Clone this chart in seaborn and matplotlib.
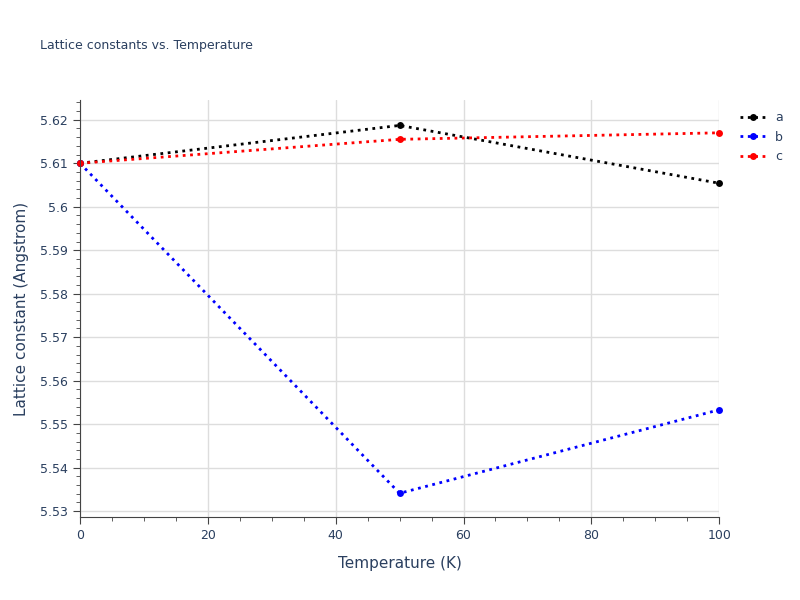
import matplotlib
matplotlib.use("Agg")
import matplotlib.pyplot as plt
import seaborn as sns
import pandas as pd
from matplotlib.ticker import MultipleLocator

sns.set_style("white")

temperature = [0, 50, 100]
lat_a = [5.6100, 5.6187, 5.6054]
lat_b = [5.6100, 5.5341, 5.5533]
lat_c = [5.6100, 5.6155, 5.6170]

df = pd.DataFrame({"T": temperature * 3,
                   "val": lat_a + lat_b + lat_c,
                   "series": ["a"] * 3 + ["b"] * 3 + ["c"] * 3})

fig = plt.figure(figsize=(8, 6), dpi=100)
ax = fig.add_axes([0.1, 0.138, 0.799, 0.695])
palette = {"a": "black", "b": "blue", "c": "red"}
for name, col in palette.items():
    sub = df[df.series == name]
    sns.lineplot(data=sub, x="T", y="val", ax=ax, color=col, linestyle=":",
                 linewidth=2, marker="o", markersize=5, markeredgewidth=0, label=name,
                 clip_on=False)

ax.set_xlim(0, 100)
ax.set_ylim(5.5286, 5.6245)
ax.xaxis.set_major_locator(MultipleLocator(20))
ax.xaxis.set_minor_locator(MultipleLocator(5))
ax.yaxis.set_minor_locator(MultipleLocator(0.002))
ax.set_yticks([5.53, 5.54, 5.55, 5.56, 5.57, 5.58, 5.59, 5.6, 5.61, 5.62])
ax.set_yticklabels(["5.53", "5.54", "5.55", "5.56", "5.57", "5.58", "5.59", "5.6", "5.61", "5.62"])
ax.grid(True, which="major", color="#dddddd", linewidth=1)
for s in ["top", "right"]:
    ax.spines[s].set_visible(False)
for s in ["left", "bottom"]:
    ax.spines[s].set_color("#444444")
ax.tick_params(which="both", direction="out", colors="#444444", labelcolor="#2a3f5f", labelsize=9)
ax.tick_params(which="major", length=5, left=True, bottom=True)
ax.tick_params(which="minor", length=3, left=True, bottom=True)
ax.set_xlabel("Temperature (K)", fontsize=11, color="#2a3f5f", labelpad=10)
ax.set_ylabel("Lattice constant (Angstrom)", fontsize=11, color="#2a3f5f", labelpad=8)
fig.text(0.05, 0.918, "Lattice constants vs. Temperature", fontsize=9, color="#2a3f5f")
leg = ax.legend(loc="upper left", bbox_to_anchor=(1.015, 1.0), frameon=False,
                fontsize=9, handlelength=2, labelspacing=0.5)
for t in leg.get_texts():
    t.set_color("#2a3f5f")
fig.savefig("out.png", dpi=100)
